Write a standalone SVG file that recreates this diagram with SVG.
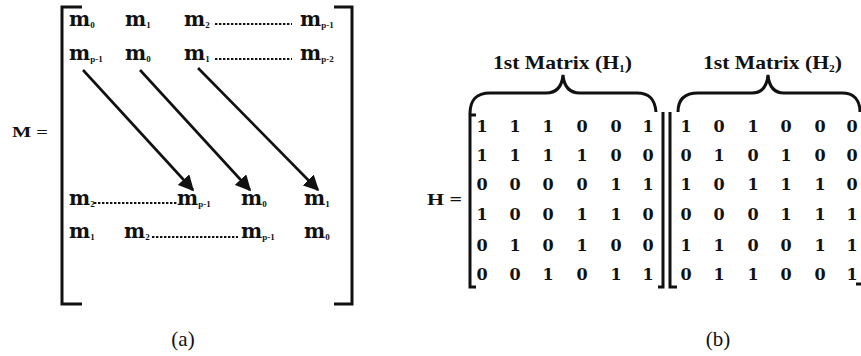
<svg xmlns="http://www.w3.org/2000/svg" width="861" height="356" viewBox="0 0 861 356">
  <style>
    .m { font-family: "DejaVu Serif", "Liberation Serif", serif; font-weight: bold; font-size: 20px; fill: #111; }
    .sub { font-family: "Liberation Serif", serif; font-weight: bold; font-size: 9px; fill: #111; }
    .lbl { font-family: "Liberation Serif", serif; font-weight: bold; fill: #111; }
    .d { font-family: "DejaVu Serif", "Liberation Serif", serif; font-weight: bold; font-size: 16px; fill: #111; text-anchor: middle; }
    .cap { font-family: "Liberation Serif", serif; font-size: 21px; fill: #111; text-anchor: middle; }
    .title { font-family: "Liberation Serif", serif; font-weight: bold; font-size: 19px; fill: #111; }
    .br { fill: none; stroke: #111; stroke-width: 3; }
    .dots { stroke: #111; stroke-width: 1.8; stroke-dasharray: 2.4 1.6; }
    .arrow { stroke: #111; stroke-width: 2.6; fill: none; }
  </style>
  <defs>
    <marker id="head" viewBox="0 0 10 10" refX="9" refY="5" markerWidth="6" markerHeight="6" markerUnits="strokeWidth" orient="auto">
      <path d="M0,0 L10,5 L0,10 Z" fill="#111"/>
    </marker>
  </defs>

  <!-- (a) circulant matrix M -->
  <g id="matrix-m">
    <text class="lbl" x="12" y="137" font-size="15" textLength="36" lengthAdjust="spacingAndGlyphs">M =</text>
    <path class="br" d="M82,7 L62,7 L62,304 L82,304"/>
    <path class="br" d="M334,7 L352,7 L352,304 L334,304"/>

    <!-- row 1 -->
    <text class="m" x="69" y="26">m<tspan class="sub" dy="2">0</tspan></text>
    <text class="m" x="125" y="26">m<tspan class="sub" dy="2">1</tspan></text>
    <text class="m" x="184" y="26">m<tspan class="sub" dy="2">2</tspan></text>
    <line class="dots" x1="215" y1="24" x2="292" y2="24"/>
    <text class="m" x="300" y="26">m<tspan class="sub" dy="2">p-1</tspan></text>

    <!-- row 2 -->
    <text class="m" x="69" y="60">m<tspan class="sub" dy="2">p-1</tspan></text>
    <text class="m" x="125" y="60">m<tspan class="sub" dy="2">0</tspan></text>
    <text class="m" x="184" y="60">m<tspan class="sub" dy="2">1</tspan></text>
    <line class="dots" x1="215" y1="59" x2="292" y2="59"/>
    <text class="m" x="300" y="60">m<tspan class="sub" dy="2">p-2</tspan></text>

    <!-- row p-1 -->
    <text class="m" x="69" y="205">m<tspan class="sub" dy="2">2</tspan></text>
    <line class="dots" x1="94" y1="203" x2="177" y2="203"/>
    <text class="m" x="177" y="205">m<tspan class="sub" dy="2">p-1</tspan></text>
    <text class="m" x="241" y="205">m<tspan class="sub" dy="2">0</tspan></text>
    <text class="m" x="304" y="205">m<tspan class="sub" dy="2">1</tspan></text>

    <!-- row p -->
    <text class="m" x="69" y="238">m<tspan class="sub" dy="2">1</tspan></text>
    <text class="m" x="124" y="238">m<tspan class="sub" dy="2">2</tspan></text>
    <line class="dots" x1="152" y1="237" x2="238" y2="237"/>
    <text class="m" x="241" y="238">m<tspan class="sub" dy="2">p-1</tspan></text>
    <text class="m" x="304" y="238">m<tspan class="sub" dy="2">0</tspan></text>
  </g>

  <g id="connectors">
    <line class="arrow" x1="83" y1="70" x2="193" y2="190" marker-end="url(#head)"/>
    <line class="arrow" x1="140" y1="70" x2="250" y2="190" marker-end="url(#head)"/>
    <line class="arrow" x1="198" y1="68" x2="318" y2="190" marker-end="url(#head)"/>
  </g>

  <text class="cap" x="183" y="346">(a)</text>

  <!-- (b) parity-check matrix H -->
  <g id="matrix-h">
    <text class="lbl" x="427" y="205" font-size="17" textLength="35" lengthAdjust="spacingAndGlyphs">H =</text>

    <text class="title" x="493" y="69" textLength="139" lengthAdjust="spacingAndGlyphs">1st Matrix (H<tspan font-size="10" dy="3">1</tspan><tspan dy="-3">)</tspan></text>
    <text class="title" x="703" y="69" textLength="139" lengthAdjust="spacingAndGlyphs">1st Matrix (H<tspan font-size="10" dy="3">2</tspan><tspan dy="-3">)</tspan></text>

    <path class="br" stroke-width="2.6" d="M470,114 C470,100 476,93 490,93 L546,93 C557,93 562,86 563,75 C564,86 569,93 580,93 L637,93 C650,93 655,100 656,112"/>
    <path class="br" stroke-width="2.6" d="M678,112 C678,100 684,93 698,93 L752,93 C762,93 767,86 768,75 C769,86 774,93 784,93 L842,93 C854,93 860,100 860,112"/>

    <path class="br" d="M476,115 L470,115 L470,287 L476,287"/>
    <path class="br" d="M663,112 L663,287 L658,287"/>
    <path class="br" d="M670,112 L670,287 L677,287"/>
    <path class="br" stroke-width="2" d="M856,284 L861,284"/>

    <g id="h1">
      <text class="d" y="132"><tspan x="482">1</tspan><tspan x="515">1</tspan><tspan x="548">1</tspan><tspan x="582">0</tspan><tspan x="616">0</tspan><tspan x="648">1</tspan></text>
      <text class="d" y="161"><tspan x="482">1</tspan><tspan x="515">1</tspan><tspan x="548">1</tspan><tspan x="582">1</tspan><tspan x="616">0</tspan><tspan x="648">0</tspan></text>
      <text class="d" y="190"><tspan x="482">0</tspan><tspan x="515">0</tspan><tspan x="548">0</tspan><tspan x="582">0</tspan><tspan x="616">1</tspan><tspan x="648">1</tspan></text>
      <text class="d" y="220"><tspan x="482">1</tspan><tspan x="515">0</tspan><tspan x="548">0</tspan><tspan x="582">1</tspan><tspan x="616">1</tspan><tspan x="648">0</tspan></text>
      <text class="d" y="251"><tspan x="482">0</tspan><tspan x="515">1</tspan><tspan x="548">0</tspan><tspan x="582">1</tspan><tspan x="616">0</tspan><tspan x="648">0</tspan></text>
      <text class="d" y="280"><tspan x="482">0</tspan><tspan x="515">0</tspan><tspan x="548">1</tspan><tspan x="582">0</tspan><tspan x="616">1</tspan><tspan x="648">1</tspan></text>
    </g>
    <g id="h2">
      <text class="d" y="132"><tspan x="686">1</tspan><tspan x="719">0</tspan><tspan x="753">1</tspan><tspan x="786">0</tspan><tspan x="820">0</tspan><tspan x="852">0</tspan></text>
      <text class="d" y="161"><tspan x="686">0</tspan><tspan x="719">1</tspan><tspan x="753">0</tspan><tspan x="786">1</tspan><tspan x="820">0</tspan><tspan x="852">0</tspan></text>
      <text class="d" y="190"><tspan x="686">1</tspan><tspan x="719">0</tspan><tspan x="753">1</tspan><tspan x="786">1</tspan><tspan x="820">1</tspan><tspan x="852">0</tspan></text>
      <text class="d" y="220"><tspan x="686">0</tspan><tspan x="719">0</tspan><tspan x="753">0</tspan><tspan x="786">1</tspan><tspan x="820">1</tspan><tspan x="852">1</tspan></text>
      <text class="d" y="251"><tspan x="686">1</tspan><tspan x="719">1</tspan><tspan x="753">0</tspan><tspan x="786">0</tspan><tspan x="820">1</tspan><tspan x="852">1</tspan></text>
      <text class="d" y="280"><tspan x="686">0</tspan><tspan x="719">1</tspan><tspan x="753">1</tspan><tspan x="786">0</tspan><tspan x="820">0</tspan><tspan x="852">1</tspan></text>
    </g>
  </g>

  <text class="cap" x="718" y="346">(b)</text>
</svg>
